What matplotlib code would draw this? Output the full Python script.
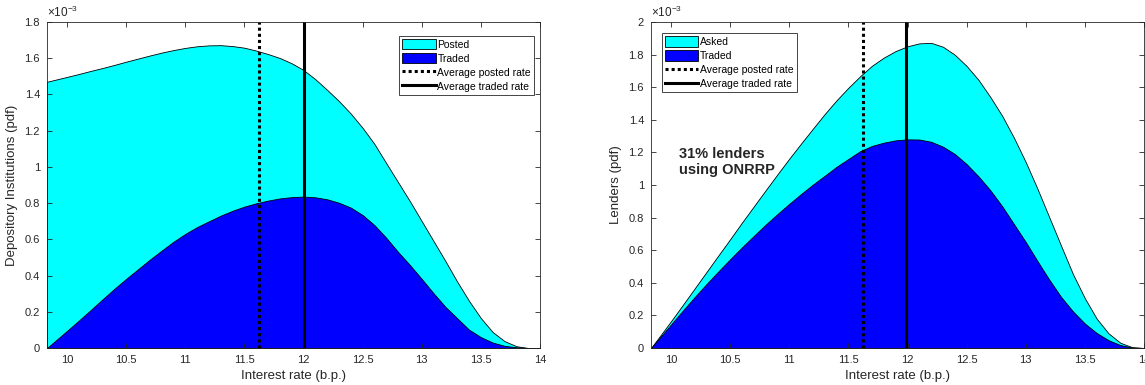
import numpy as np
import matplotlib
matplotlib.use('Agg')
import matplotlib.pyplot as plt
from matplotlib.ticker import FuncFormatter

plt.rcParams['font.family'] = ['Liberation Sans', 'DejaVu Sans']
plt.rcParams['mathtext.fontset'] = 'custom'
plt.rcParams['mathtext.rm'] = 'Liberation Sans'
plt.rcParams['mathtext.it'] = 'Liberation Sans:italic'

# Interest rate grid (b.p.)
rate = [9.83, 10.0, 10.1, 10.2, 10.3, 10.4, 10.5, 10.6, 10.7, 10.8, 10.9,
        11.0, 11.1, 11.2, 11.3, 11.4, 11.5, 11.6, 11.7, 11.8, 11.9,
        12.0, 12.1, 12.2, 12.3, 12.4, 12.5, 12.6, 12.7, 12.8, 12.9,
        13.0, 13.1, 13.2, 13.3, 13.4, 13.5, 13.6, 13.7, 13.8, 13.9, 14.0]

# Depository institutions, pdf in units of 1e-3
di_posted = [1.470, 1.497, 1.513, 1.530, 1.546, 1.563, 1.581, 1.598, 1.615, 1.631, 1.645,
             1.657, 1.666, 1.671, 1.672, 1.667, 1.658, 1.642, 1.623, 1.601, 1.572,
             1.535, 1.484, 1.425, 1.363, 1.294, 1.215, 1.126, 1.020, 0.915, 0.810,
             0.700, 0.590, 0.480, 0.366, 0.260, 0.165, 0.088, 0.038, 0.010, 0.0, 0.0]
di_traded = [0.0, 0.095, 0.152, 0.210, 0.269, 0.327, 0.382, 0.435, 0.488, 0.538, 0.587,
             0.630, 0.668, 0.700, 0.731, 0.758, 0.781, 0.799, 0.814, 0.826, 0.833,
             0.836, 0.832, 0.821, 0.802, 0.775, 0.734, 0.678, 0.608, 0.530, 0.458,
             0.381, 0.302, 0.227, 0.164, 0.101, 0.060, 0.030, 0.012, 0.004, 0.0, 0.0]

# Lenders, pdf in units of 1e-3
ld_asked = [0.0, 0.165, 0.265, 0.366, 0.467, 0.568, 0.668, 0.770, 0.869, 0.968, 1.066,
            1.162, 1.255, 1.346, 1.436, 1.520, 1.597, 1.668, 1.732, 1.782, 1.822,
            1.851, 1.869, 1.872, 1.848, 1.799, 1.730, 1.645, 1.540, 1.425, 1.290,
            1.140, 0.975, 0.800, 0.625, 0.452, 0.305, 0.180, 0.090, 0.032, 0.005, 0.0]
ld_traded = [0.0, 0.145, 0.230, 0.313, 0.393, 0.470, 0.545, 0.618, 0.688, 0.757, 0.822,
             0.885, 0.945, 1.003, 1.057, 1.112, 1.160, 1.208, 1.240, 1.260, 1.274,
             1.280, 1.279, 1.265, 1.235, 1.190, 1.128, 1.053, 0.968, 0.870, 0.760,
             0.650, 0.532, 0.418, 0.312, 0.224, 0.150, 0.092, 0.048, 0.018, 0.003, 0.0]

# Average rates
di_avg_posted, di_avg_traded = 11.62, 12.0
ld_avg_posted, ld_avg_traded = 11.625, 11.99

xticks = [10, 10.5, 11, 11.5, 12, 12.5, 13, 13.5, 14]
xticklabels = ['10', '10.5', '11', '11.5', '12', '12.5', '13', '13.5', '14']

W, H = 1145, 385
fig = plt.figure(figsize=(W / 100, H / 100), dpi=100)
ax1 = fig.add_axes([47 / W, 37 / H, 493 / W, 326 / H])
ax2 = fig.add_axes([651 / W, 37 / H, 493 / W, 326 / H])

grey = '#262626'
x = np.array(rate)


def draw(ax, top, bottom, top_label, avg_p, avg_t, ymax, ylabel):
    ax.fill_between(x, np.array(top) * 1e-3, color='#00ffff', edgecolor='k',
                    linewidth=0.6, label=top_label)
    ax.fill_between(x, np.array(bottom) * 1e-3, color='#0000ff', edgecolor='k',
                    linewidth=0.6, label='Traded')
    ax.axvline(avg_p, color='k', linestyle=(0, (1, 1)), linewidth=2.2,
               label='Average posted rate')
    ax.axvline(avg_t, color='k', linestyle='-', linewidth=2.2,
               label='Average traded rate')
    ax.set_xlim(9.83, 14.0)
    ax.set_ylim(0, ymax * 1e-3)
    ax.set_xticks(xticks)
    ax.set_xticklabels(xticklabels)
    ax.set_yticks(np.arange(0, ymax + 0.01, 0.2) * 1e-3)
    ax.yaxis.set_major_formatter(FuncFormatter(lambda v, p: f'{v * 1e3:.1f}'.rstrip('0').rstrip('.')))
    ax.tick_params(direction='in', length=3.5, width=0.6, top=True, right=True,
                   labelsize=8, colors=grey, pad=5)
    for s in ax.spines.values():
        s.set_linewidth(0.6)
        s.set_color(grey)
    ax.set_xlabel('Interest rate (b.p.)', fontsize=9.5, color=grey, labelpad=4)
    ax.set_ylabel(ylabel, fontsize=9.5, color=grey, labelpad=5)
    ax.text(0.0, 1.006, r'$\times10^{-3}$', transform=ax.transAxes, fontsize=8.5,
            color=grey, ha='left', va='bottom')


draw(ax1, di_posted, di_traded, 'Posted', di_avg_posted, di_avg_traded, 1.8,
     'Depository Institutions (pdf)')
draw(ax2, ld_asked, ld_traded, 'Asked', ld_avg_posted, ld_avg_traded, 2.0,
     'Lenders (pdf)')

leg_kw = dict(fontsize=7.5, fancybox=False, framealpha=1, edgecolor=grey,
              handlelength=3.2, handleheight=1.2, handletextpad=0.15,
              labelspacing=0.3, borderpad=0.3, borderaxespad=0)
l1 = ax1.legend(loc='upper right', bbox_to_anchor=(0.988, 0.958), **leg_kw)
l2 = ax2.legend(loc='upper left', bbox_to_anchor=(0.022, 0.966), **leg_kw)
for l in (l1, l2):
    l.get_frame().set_linewidth(0.6)

ax2.text(10.07, 1.235e-3, '31% lenders\nusing ONRRP', fontsize=10.5,
         fontweight='bold', color='#262626', ha='left', va='top', linespacing=1.25)

fig.savefig('out.png', dpi=100)
